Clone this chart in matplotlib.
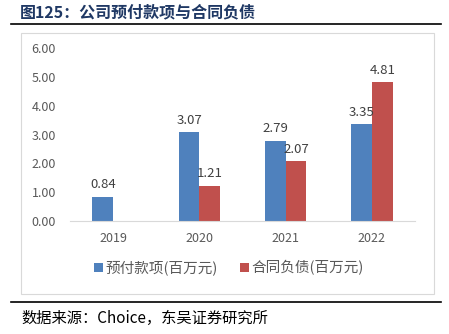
import numpy as np
import matplotlib
matplotlib.use('Agg')
import matplotlib.pyplot as plt
from matplotlib.patches import Rectangle

plt.rcParams['font.family'] = ['Noto Sans CJK SC', 'DejaVu Sans']

years = ['2019', '2020', '2021', '2022']
prepay = [0.84, 3.07, 2.79, 3.35]
contract = [np.nan, 1.21, 2.07, 4.81]
yticks = [0, 1, 2, 3, 4, 5, 6]

blue = '#4F81BD'
red = '#C0504D'
gray = '#595959'

fig = plt.figure(figsize=(4.49, 3.34), dpi=100)

# title and frame lines
fig.text(20 / 449, 1 - 12 / 334, '图125：公司预付款项与合同负债', fontsize=11.5, fontweight='bold',
         color='#1F3864', va='center', ha='left')
fig.add_artist(plt.Line2D([11 / 449, 441 / 449], [1 - 24 / 334] * 2, color='black', lw=1.2))
fig.add_artist(plt.Line2D([11 / 449, 441 / 449], [1 - 302 / 334] * 2, color='black', lw=1.2))
fig.add_artist(Rectangle((21 / 449, 1 - 294 / 334), 413 / 449, 261 / 334, fill=False,
                         edgecolor='#D9D9D9', lw=0.8, transform=fig.transFigure))
fig.text(21 / 449, 1 - 318 / 334, '数据来源：Choice，东吴证券研究所', fontsize=11,
         color='black', va='center', ha='left')

ax = fig.add_axes([70 / 449, 1 - 221 / 334, 345 / 449, 173 / 334])
x = np.arange(len(years))
w = 0.24
b1 = ax.bar(x - w / 2, prepay, w, color=blue, label='预付款项(百万元)')
b2 = ax.bar(x + w / 2, contract, w, color=red, label='合同负债(百万元)')

for xi, v in zip(x, prepay):
    ax.text(xi - w / 2, v + 0.2, f'{v:.2f}', ha='center', va='bottom', fontsize=9.5, color='#404040')
for xi, v in zip(x, contract):
    if not np.isnan(v):
        ax.text(xi + w / 2, v + 0.2, f'{v:.2f}', ha='center', va='bottom', fontsize=9.5, color='#404040')

ax.set_xlim(-0.5, 3.5)
ax.set_ylim(0, 6)
ax.set_xticks(x)
ax.set_xticklabels(years)
ax.set_yticks(yticks)
ax.set_yticklabels([f'{t:.2f}' for t in yticks])
ax.tick_params(axis='both', length=0, labelsize=9, colors=gray)
ax.tick_params(axis='x', pad=8)
ax.tick_params(axis='y', pad=10)
for s in ['top', 'right', 'left']:
    ax.spines[s].set_visible(False)
ax.spines['bottom'].set_color('#D9D9D9')

fig.legend(handles=[b1, b2], loc='center', bbox_to_anchor=(0.51, 1 - 268 / 334), ncol=2,
           frameon=False, fontsize=10.5, handlelength=0.6, handleheight=0.6, handletextpad=0.2,
           columnspacing=1.5, labelcolor=gray)

fig.savefig('out.png', dpi=100)
